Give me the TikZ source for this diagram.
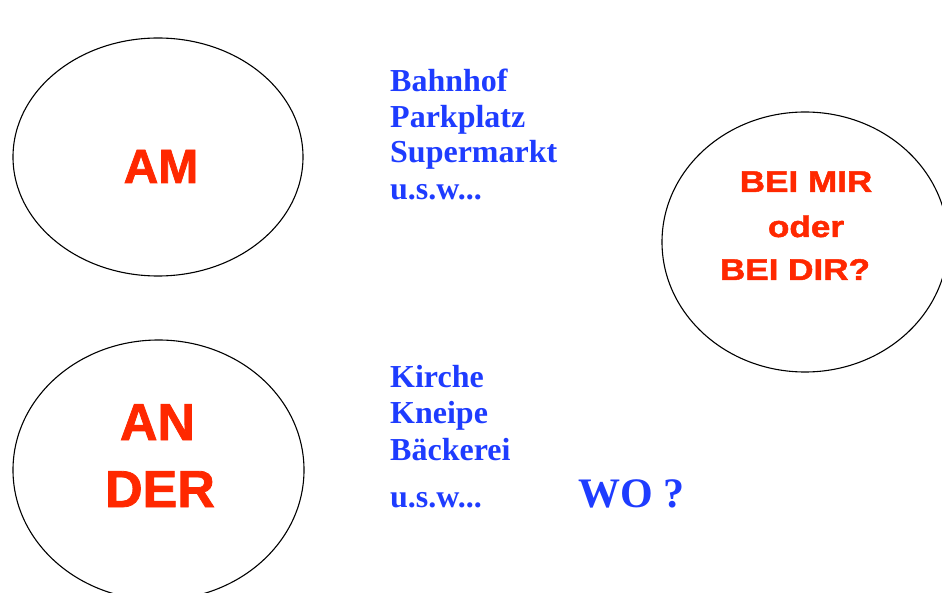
\documentclass[tikz,border=0pt]{standalone}
\usepackage{fontspec}
\setmainfont{Liberation Serif}
\newfontfamily\arialfont[BoldFeatures={FakeBold=1.5}]{Liberation Sans}
\usetikzlibrary{shapes.geometric}
\usetikzlibrary{positioning}
\definecolor{ortred}{RGB}{255,40,0}
\definecolor{ortblue}{RGB}{30,60,255}

\begin{document}
\begin{tikzpicture}[x=1pt,y=-1pt,
		ring/.style={draw,ellipse,line width=1.1pt,inner sep=0pt},
		bigword/.style={anchor=base,text=ortred,font=\arialfont\bfseries\fontsize{48}{50}\selectfont,inner sep=0pt},
		midword/.style={anchor=base,text=ortred,font=\arialfont\bfseries\fontsize{30}{32}\selectfont,inner sep=0pt,xscale=1.17,transform shape},
		place/.style={anchor=base west,text=ortblue,font=\bfseries\fontsize{32}{34}\selectfont,inner sep=0pt}]
		\useasboundingbox (0,0) rectangle (942,593);
		\path
		(158,157) node[ring,minimum width=290pt,minimum height=238pt](am) {}
		(158.5,470) node[ring,minimum width=291pt,minimum height=260pt](ander) {}
		(805,242) node[ring,minimum width=286pt,minimum height=260pt](beimir) {};
		\path
		(161,183) node[bigword](tam) {AM}
		(157.5,440) node[bigword,font=\arialfont\bfseries\fontsize{52}{54}\selectfont](tan) {AN}
		(160,507) node[bigword,font=\arialfont\bfseries\fontsize{52}{54}\selectfont](tder) {DER}
		(806,192) node[midword](tmir) {BEI MIR}
		(806,237) node[midword](toder) {oder}
		(795,280) node[midword](tdir) {BEI DIR?};
		\path
		(390,92) node[place](bahnhof) {Bahnhof}
		(390,128) node[place](parkplatz) {Parkplatz}
		(390,163) node[place](supermarkt) {Supermarkt}
		(390,200) node[place](usw1) {u.s.w...}
		(390,387) node[place](kirche) {Kirche}
		(390,423) node[place](kneipe) {Kneipe}
		(390,460) node[place](baeckerei) {Bäckerei}
		(390,507) node[place](usw2) {u.s.w...}
		(578,507) node[place,font=\bfseries\fontsize{42}{44}\selectfont](wo) {WO ?};
	\end{tikzpicture}
\end{document}
